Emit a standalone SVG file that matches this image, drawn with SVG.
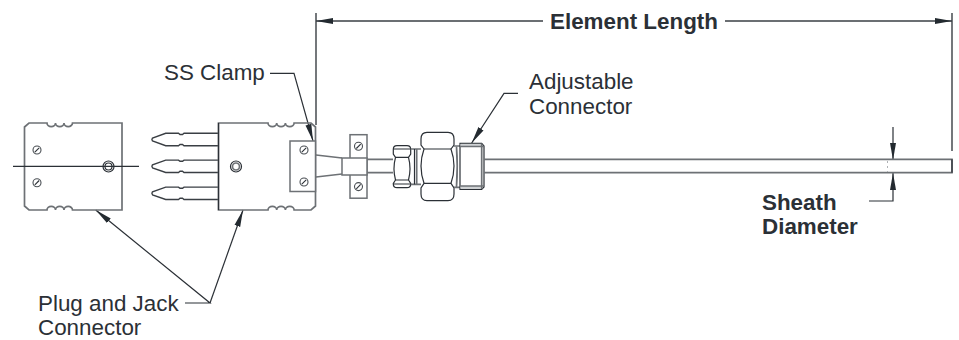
<svg xmlns="http://www.w3.org/2000/svg" width="959" height="340" viewBox="0 0 959 340">
<style>
text{font-family:"Liberation Sans",Arial,sans-serif;font-size:22.4px;fill:#2b3036}
.b{font-weight:bold}
.l{fill:none;stroke:#3a3f44;stroke-width:1.4}
.t{fill:none;stroke:#2b3036;stroke-width:1.2}
.g{fill:none;stroke:#6d7175;stroke-width:1.7}
.w{fill:#fff;stroke:#6d7175;stroke-width:1.5}
</style>
<defs>
<marker id="a" markerUnits="userSpaceOnUse" markerWidth="18" markerHeight="8" refX="17" refY="4" orient="auto"><path d="M0 1 17 4 0 7z" fill="#232a30"/></marker>
<g id="s"><circle r="4" fill="#fff" stroke="#4a4f54" stroke-width="1.1"/><path d="M-2.200 2.200 2.200-2.200" stroke="#2b3036" stroke-width="1.1"/></g>
<g id="p"><path class="l" d="M218.500-6.200H184l-1.500 1.200h-2.500l-1.500-1.200H165.700L152.500-1.500q-1.200 1.500 0 3L165.700 6.200H178.500l1.500-1.200h2.500l1.500 1.200H218.500"/></g>
</defs>
<g id="connectors">
<path class="l" d="M316 13V125M952 13V151"/>
<path class="l" marker-end="url(#a)" d="M543 21H316"/>
<path class="l" marker-end="url(#a)" d="M725 21H952"/>
<path class="t" marker-end="url(#a)" d="M270 73.300H294L313 141"/>
<path class="t" marker-end="url(#a)" d="M518 93.300H504L471.700 143"/>
<path class="t" marker-end="url(#a)" d="M185 303H210L95.700 210"/>
<path class="t" marker-end="url(#a)" d="M210 303L243 210"/>
<path class="t" marker-end="url(#a)" d="M893 127V160"/>
<path class="t" marker-end="url(#a)" d="M869 201H893V173"/>
</g>
<g id="plug">
<path class="g" d="M122 123H72.500a4.200 3.500 0 0 1-8.500 0a4.200 3.500 0 0 1-8.500 0a4.200 3.500 0 0 1-8.500 0H29l-4.500 4V206l4.500 4H47a4.200 3.500 0 0 1 8.500 0a4.200 3.500 0 0 1 8.500 0a4.200 3.500 0 0 1 8.500 0H122z"/>
<use href="#s" x="37" y="150"/><use href="#s" x="37" y="182.700"/>
<circle class="t" cx="108.500" cy="166.500" r="5.500"/><circle class="t" cx="108.500" cy="166.500" r="3.500"/>
<path class="t" d="M13 166.300H139"/>
</g>
<g id="pins">
<use href="#p" y="139.500"/><use href="#p" y="166.300"/><use href="#p" y="193.300"/>
</g>
<g id="jack">
<path class="g" d="M218.500 123H268a4.200 3.500 0 0 0 8.700 0a4.200 3.500 0 0 0 8.700 0a4.200 3.500 0 0 0 8.700 0H311l4.500 4V206l-4.500 4H294.100a4.200 3.500 0 0 0-8.700 0a4.200 3.500 0 0 0-8.700 0a4.200 3.500 0 0 0-8.700 0H218.500z"/>
<path class="t" d="M218.500 123V210"/>
<circle class="t" cx="236" cy="166.500" r="5.500"/><circle class="g" cx="236" cy="166.500" r="3.500"/>
</g>
<g id="clamp">
<rect class="w" x="290" y="141" width="25.500" height="50.500"/>
<use href="#s" x="304" y="150"/><use href="#s" x="304" y="182"/>
</g>
<g id="cable">
<path class="g" d="M316 155 342 158M316 177 342 174M367 159.300H393M367 172.700H393"/>
<rect class="w" x="350" y="134.700" width="17" height="63.500"/>
<rect class="w" x="342" y="158" width="25" height="17"/>
<use href="#s" x="358.500" y="146.300"/><use href="#s" x="358.500" y="186.600"/>
</g>
<g id="adjustable-connector">
<path class="t" d="M397 145.700H407Q410.700 145.700 410.700 149.500V154L408.500 157.300Q411.500 168.500 408.500 180L410.700 183.500V184Q410.700 187.700 407 187.700H397Q393.300 187.700 393.300 184V183.500L395.500 180Q392.500 168.500 395.500 157.300L393.300 154V149.500Q393.300 145.700 397 145.700Z"/>
<path class="t" d="M395.500 157.300H408.500M395.500 180H408.500M393.300 149H410.700M393.300 184H410.700"/>
<path class="g" d="M410.700 149H421M410.700 184.300H421M416.700 149V184.300"/>
<path class="t" d="M414.500 149V184.300"/>
<path class="t" d="M427 132.300H448Q454 132.300 454 139V145L451 149Q457 166 451 183.300L454 188V194Q454 200.700 448 200.700H427Q421 200.700 421 194V188L424 183.300Q418 166 424 149L421 145V139Q421 132.300 427 132.300Z"/>
<path class="t" d="M424 149H451M424 183.300H451"/>
<path class="g" d="M454 146H460M454 187.300H460"/>
<path class="g" d="M456.500 146.500Q458 166 456.500 187"/>
<path d="M460 143.300H481.700L484 146V187L481.700 189.300H460Z" fill="#fff" stroke="#2b3036" stroke-width="1.200"/>
<path d="M460.500 186H481.500V188.800H460.500ZM460.500 143.800H481.500V146.500H460.500Z" fill="#cfd2d4"/>
<path class="g" d="M460 146.500H484M460 186H484M481.700 143.500V189"/>
</g>
<g id="sheath">
<path class="g" d="M484 159.300H952V172.700H484"/>
<path class="t" d="M952 159.300V172.700"/>
<path d="M887.500 161V172" stroke="#aeb1b4" stroke-width="1" stroke-dasharray="2 3"/>
</g>
<g id="labels">
<text class="b" x="550" y="28.500">Element Length</text>
<text x="164" y="79.500">SS Clamp</text>
<text x="529" y="88.700">Adjustable</text>
<text x="529" y="113.500">Connector</text>
<text class="b" x="762" y="210">Sheath</text>
<text class="b" x="762" y="234">Diameter</text>
<text x="38" y="311">Plug and Jack</text>
<text x="38" y="335">Connector</text>
</g>
</svg>
